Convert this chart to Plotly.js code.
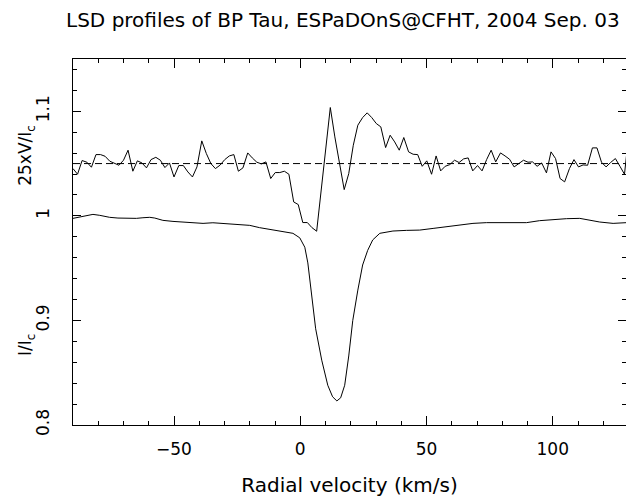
<!DOCTYPE html>
<html>
<head>
<meta charset="utf-8">
<script src="https://cdn.plot.ly/plotly-3.0.1.min.js"></script>
<style>html,body{margin:0;padding:0;background:#fff;}#chart{width:626px;height:498px;}</style>
</head>
<body>
<div id="chart"></div>
<script>
// Stokes V (LSD), velocity grid (km/s)
const velV = [-90.0,-88.2,-86.4,-84.5,-82.7,-80.9,-79.1,-77.3,-75.4,-73.6,-71.8,-70.0,-68.2,-66.3,-64.5,-62.7,-60.9,-59.1,-57.2,-55.4,
-53.6,-51.8,-50.0,-48.1,-46.3,-44.5,-42.7,-40.9,-39.0,-37.2,-35.4,-33.6,-31.8,-29.9,-28.1,-26.3,-24.5,-22.7,-20.8,-19.0,
-17.2,-15.4,-13.6,-11.7,-9.9,-8.1,-6.3,-4.5,-2.6,-0.8,1.0,2.8,4.6,6.5,8.3,10.1,11.9,13.7,15.6,17.4,
19.2,21.0,22.8,24.7,26.5,28.3,30.1,31.9,33.8,35.6,37.4,39.2,41.0,42.9,44.7,46.5,48.3,50.1,52.0,53.8,
55.6,57.4,59.2,61.1,62.9,64.7,66.5,68.3,70.2,72.0,73.8,75.6,77.4,79.3,81.1,82.9,84.7,86.5,88.4,90.2,
92.0,93.8,95.6,97.5,99.3,101.1,102.9,104.7,106.6,108.4,110.2,112.0,113.8,115.7,117.5,119.3,121.1,122.9,124.8,126.6,
128.4,130.2];
// 25 x V/Ic
const stokesV25 = [-0.0048,-0.0102,0.0029,0.0013,-0.0035,0.0086,0.0086,0.0070,0.0022,0.0006,
-0.0016,0.0032,0.0128,-0.0073,0.0026,0.0006,-0.0041,0.0038,0.0060,0.0032,
-0.0038,0.0006,-0.0128,-0.0019,-0.0019,-0.0080,-0.0128,-0.0032,0.0217,0.0096,
0.0000,-0.0048,-0.0016,0.0038,0.0073,0.0086,-0.0073,-0.0041,0.0102,0.0054,
0.0013,-0.0003,0.0016,-0.0143,-0.0086,-0.0086,-0.0073,-0.0102,-0.0367,-0.0392,
-0.0564,-0.0564,-0.0612,-0.0647,-0.0233,0.0182,0.0536,0.0255,0.0000,-0.0249,
-0.0096,0.0175,0.0367,0.0440,0.0485,0.0440,0.0383,0.0351,0.0153,0.0271,
0.0207,0.0128,0.0249,0.0112,0.0089,0.0086,-0.0026,0.0026,-0.0102,0.0073,
-0.0070,-0.0026,-0.0010,0.0032,0.0010,0.0045,0.0054,-0.0070,-0.0019,-0.0070,
0.0038,0.0128,0.0016,0.0102,0.0073,0.0041,-0.0032,0.0000,0.0032,0.0013,
0.0016,-0.0026,0.0006,-0.0089,0.0112,0.0048,-0.0143,-0.0175,-0.0048,0.0038,
-0.0032,-0.0013,-0.0016,0.0150,0.0150,0.0013,-0.0032,0.0010,0.0048,-0.0026,
-0.0102,0.0300];
const vShift = 1.05;

// Stokes I
const velI = [-90,-88,-85.4,-82.1,-79.4,-75.5,-72.2,-68.9,-64.9,-62.3,-59.6,-57.6,-54.4,-50.4,-46.4,-42.5,-38.5,-34.6,-30.6,-28,
-24,-20,-16.1,-10.8,-6.8,-2.9,-0.2,1.8,3.0,4.1,6.1,8.5,10.9,12.8,14.5,16.0,17.6,19.2,20.8,22.8,
24.7,26.7,28.7,31.5,36.7,42,47.3,52.6,57.9,63.1,68.4,73.7,79,84.3,89.6,94.8,100.1,105.4,110.7,114.6,
118.6,123.9,129.2];
const stokesI = [0.9976,0.9986,0.9992,1.0014,1.0005,0.9986,0.9979,0.9976,0.9976,0.9982,0.9986,0.9979,0.9957,0.9947,0.9941,0.9934,0.9928,0.9934,0.9928,0.9922,
0.9915,0.9909,0.9887,0.9864,0.9845,0.9833,0.979,0.970,0.955,0.932,0.892,0.862,0.838,0.827,0.823,0.826,0.838,0.866,0.900,0.929,
0.953,0.967,0.977,0.9833,0.9855,0.9861,0.9864,0.988,0.9896,0.9912,0.9928,0.9935,0.9935,0.9928,0.9935,0.9954,0.9967,0.9973,0.9976,0.996,
0.9941,0.9928,0.9935];

const xTicks = [-50, 0, 50, 100];
const xTickText = ['\u221250', '0', '50', '100'];
const yTicks = [0.8, 0.9, 1, 1.1];
const yTickText = ['0.8', '0.9', '1', '1.1'];

const FONT = 'DejaVu Sans, sans-serif';

const traces = [
  {x: velI, y: stokesI, mode: 'lines', line: {color: '#000', width: 1}, hoverinfo: 'skip'},
  {x: velV, y: stokesV25.map(v => v + vShift), mode: 'lines', line: {color: '#000', width: 1}, hoverinfo: 'skip'}
];

const layout = {
  width: 626, height: 498,
  margin: {l: 73, r: 0, t: 59, b: 73},
  paper_bgcolor: '#fff', plot_bgcolor: '#fff',
  showlegend: false,
  font: {family: FONT, color: '#000', size: 17},
  title: {text: 'LSD profiles of BP Tau, ESPaDOnS@CFHT, 2004 Sep. 03',
          font: {family: FONT, size: 20, color: '#000'},
          x: 0.99, xanchor: 'right', xref: 'container', y: 0.96, yref: 'container', yanchor: 'middle'},
  xaxis: {range: [-90, 129], showgrid: false, zeroline: false,
          showline: true, linecolor: '#000', linewidth: 1, mirror: 'ticks',
          ticks: 'inside', ticklen: 9, tickcolor: '#000', tickwidth: 1,
          tickvals: xTicks, ticktext: xTickText, ticklabelstandoff: 9,
          tickfont: {family: FONT, size: 17, color: '#000'},
          minor: {dtick: 10, tick0: 0, ticks: 'inside', ticklen: 4, tickcolor: '#000', tickwidth: 1, showgrid: false},
          title: {text: 'Radial velocity (km/s)', font: {family: FONT, size: 20, color: '#000'}, standoff: 19}},
  yaxis: {range: [0.8, 1.15], showgrid: false, zeroline: false,
          showline: true, linecolor: '#000', linewidth: 1, mirror: 'ticks',
          ticks: 'inside', ticklen: 8, tickcolor: '#000', tickwidth: 1,
          tickvals: yTicks, ticktext: yTickText, tickangle: -90,
          ticklabelstandoff: 16,
          tickfont: {family: FONT, size: 17, color: '#000'},
          minor: {dtick: 0.02, tick0: 0.8, ticks: 'inside', ticklen: 4, tickcolor: '#000', tickwidth: 1, showgrid: false}},
  shapes: [{type: 'line', xref: 'paper', x0: 0, x1: 1, yref: 'y', y0: vShift, y1: vShift,
            line: {color: '#000', width: 1, dash: '7px,4px'}}],
  annotations: [
    {text: '25xV/I<sub>c</sub>', xref: 'paper', yref: 'y', x: -0.084, y: 1.058, textangle: -90,
     showarrow: false, xanchor: 'center', yanchor: 'middle', font: {family: FONT, size: 17, color: '#000'}},
    {text: 'I/I<sub>c</sub>', xref: 'paper', yref: 'y', x: -0.084, y: 0.876, textangle: -90,
     showarrow: false, xanchor: 'center', yanchor: 'middle', font: {family: FONT, size: 17, color: '#000'}}
  ]
};

Plotly.newPlot('chart', traces, layout, {staticPlot: true, displayModeBar: false});
</script>
</body>
</html>
